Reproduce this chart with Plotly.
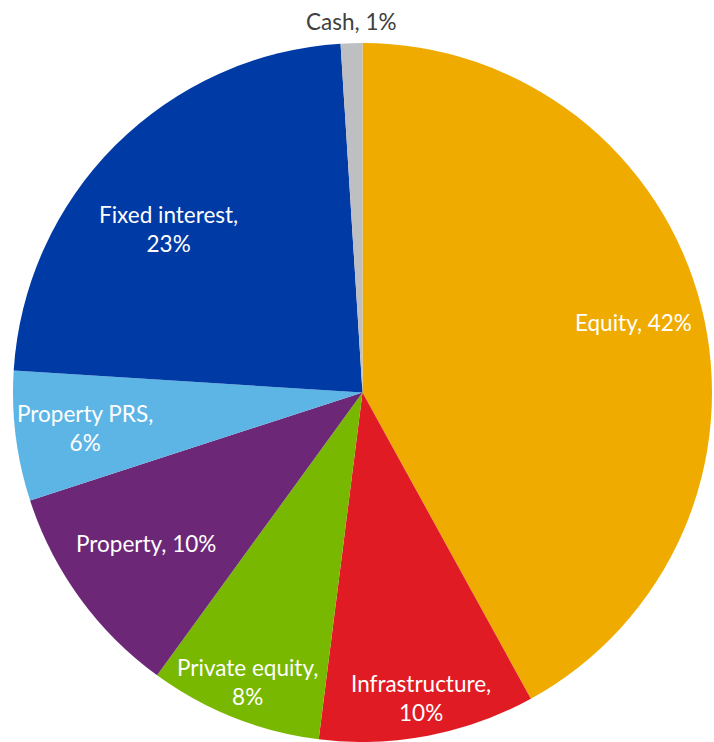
import math
import plotly.graph_objects as go

labels = ["Equity", "Infrastructure", "Private equity", "Property",
          "Property PRS", "Fixed interest", "Cash"]
values = [42, 10, 8, 10, 6, 23, 1]
colors = ["#F0AB00", "#E01B24", "#78B800", "#6C2877",
          "#5DB5E5", "#003AA5", "#BEBFC3"]
label_breaks = [False, True, True, False, True, True, False]

# label styling / placement (fraction of radius, angle tweak in degrees)
label_r = [0.80, 0.89, 0.89, 0.755, 0.80, 0.726, 1.062]
label_da = [0, 0, 0, 1.2, 0, -5, 0]
label_colors = ["white"] * 6 + ["#404040"]

W, H = 714, 742
dom_x = [13 / W, 712 / W]
dom_y = [0.0, 1 - 43 / H]

fig = go.Figure(go.Pie(
    labels=labels, values=values, sort=False, direction="clockwise",
    rotation=0, marker=dict(colors=colors, line=dict(width=0)),
    textinfo="none", domain=dict(x=dom_x, y=dom_y), showlegend=False,
))

# pie geometry in pixels (margins are zero)
dw = (dom_x[1] - dom_x[0]) * W
dh = (dom_y[1] - dom_y[0]) * H
R = min(dw, dh) / 2
cx = (dom_x[0] + dom_x[1]) / 2 * W
cy = H - (dom_y[0] + dom_y[1]) / 2 * H

total = sum(values)
cum = 0
annotations = []
for i, (lab, v) in enumerate(zip(labels, values)):
    mid = (cum + v / 2) / total * 360 + label_da[i]
    cum += v
    a = math.radians(mid)
    px = cx + label_r[i] * R * math.sin(a)
    py = cy - label_r[i] * R * math.cos(a)
    sep = ",<br>" if label_breaks[i] else ", "
    annotations.append(dict(
        x=px / W, y=1 - py / H, xref="paper", yref="paper",
        text=f"{lab}{sep}{v}%", showarrow=False,
        xanchor="center", yanchor="middle",
        font=dict(family="Lato", size=22.5, color=label_colors[i]),
    ))

fig.update_layout(
    width=W, height=H, margin=dict(l=0, r=0, t=0, b=0),
    paper_bgcolor="white", plot_bgcolor="white",
    annotations=annotations,
)

fig.write_html("out.html",
               config={"displayModeBar": False},
               post_script="document.body.style.margin='0';")
